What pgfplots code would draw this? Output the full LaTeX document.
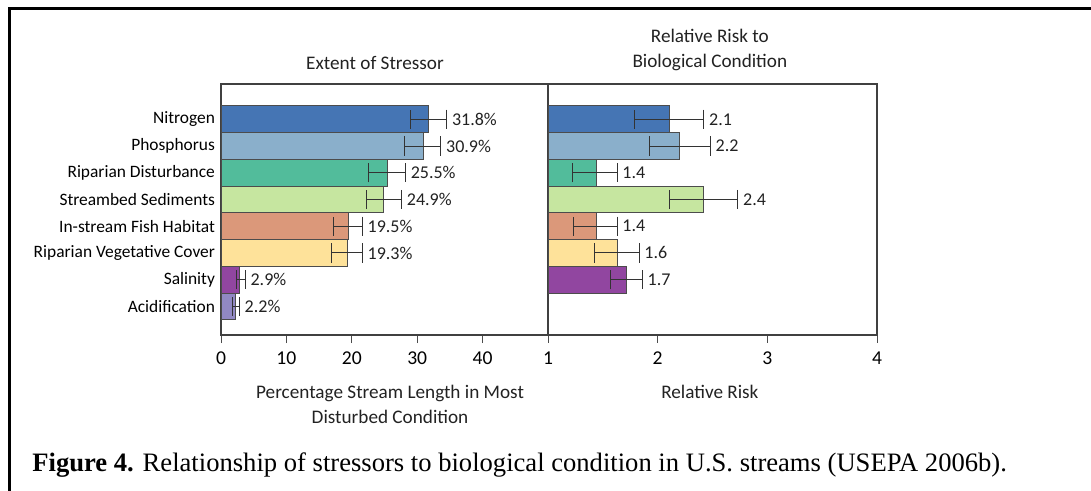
\documentclass[border=0pt]{standalone}
\usepackage{pgfplots}
\pgfplotsset{compat=1.18}
\usepackage{fontspec}
\setmainfont{Carlito}
\newfontfamily\capfont{Liberation Serif}
\definecolor{cN}{HTML}{4575B4}
\definecolor{cP}{HTML}{8AAFCB}
\definecolor{cRD}{HTML}{52BC9B}
\definecolor{cSS}{HTML}{C6E6A0}
\definecolor{cIF}{HTML}{DB987A}
\definecolor{cRV}{HTML}{FEE29A}
\definecolor{cSal}{HTML}{9146A0}
\definecolor{cAc}{HTML}{9188C3}
\definecolor{txt}{HTML}{222222}
\pgfplotsset{
  base/.style={
    scale only axis,
    height=125.5pt,
    ymin=-1.07, ymax=8.32,
    axis line style={draw=black!75, line width=0.6pt},
    tick pos=left,
    tick align=outside,
    major tick length=4pt,
    x tick style={draw=black!70, line width=0.5pt},
    y tick style={draw=none},
    font=\fontsize{9.6}{12.5}\selectfont\color{txt},
    every axis title shift=0pt,
    /pgf/number format/assume math mode=true,
    xticklabel style={yshift=-1pt, font=\fontsize{9.8}{12}\selectfont},
    clip=true,
  },
  mybar/.style={xbar, bar width=13.35pt, bar shift=0pt, draw=black!70, line width=0.5pt, fill=#1,
    error bars/.cd, x dir=both, x explicit,
    error mark=|, error mark options={mark size=4.8pt, line width=0.5pt, draw=black!80},
    error bar style={line width=0.5pt, draw=black!80}},
  vlab/.style={only marks, mark=none, nodes near coords, point meta=explicit symbolic,
    every node near coord/.append style={anchor=west, inner sep=0pt, xshift=2.5pt, font=\fontsize{9}{10}\selectfont\color{txt}}},
}
\begin{document}
\begin{tikzpicture}
\path[use as bounding box] (0,0) rectangle (545.5pt,-245.5pt);
\draw[line width=1.5pt, black] (4.5pt,-246pt) -- (4.5pt,-4.5pt) -- (546pt,-4.5pt);

% left panel
\begin{axis}[base,
  at={(110.5pt,-167.5pt)}, anchor=south west,
  width=163.5pt,
  xmin=0, xmax=50,
  xtick={0,10,20,30,40},
  ytick={0,1,2,3,4,5,6,7},
  yticklabels={Acidification,Salinity,Riparian Vegetative Cover,In-stream Fish Habitat,Streambed Sediments,Riparian Disturbance,Phosphorus,Nitrogen},
  yticklabel style={xshift=4.5pt, font=\fontsize{8.7}{10}\selectfont},
  title={Extent of Stressor},
  title style={at={(axis description cs:0.471,1.084)}, anchor=center, inner sep=0pt},
  xlabel={Percentage Stream Length in Most\\Disturbed Condition},
  xlabel style={at={(axis description cs:0.517,-0.2)}, anchor=north, align=center, inner sep=0pt},
]
\addplot[mybar=cN]  coordinates {(31.8,7) += (2.7,0) -= (2.8,0)};
\addplot[mybar=cP]  coordinates {(30.9,6) += (2.7,0) -= (2.9,0)};
\addplot[mybar=cRD] coordinates {(25.5,5) += (2.7,0) -= (2.9,0)};
\addplot[mybar=cSS] coordinates {(24.9,4) += (2.7,0) -= (2.7,0)};
\addplot[mybar=cIF] coordinates {(19.5,3) += (2.1,0) -= (2.3,0)};
\addplot[mybar=cRV] coordinates {(19.3,2) += (2.3,0) -= (2.4,0)};
\addplot[mybar=cSal] coordinates {(2.9,1) += (0.8,0) -= (0.6,0)};
\addplot[mybar=cAc] coordinates {(2.2,0) += (0.6,0) -= (0.5,0)};
\addplot[vlab] coordinates {
  (34.5,7) [31.8\%]
  (33.6,6) [30.9\%]
  (28.2,5) [25.5\%]
  (27.6,4) [24.9\%]
  (21.6,3) [19.5\%]
  (21.6,2) [19.3\%]
  (3.7,1) [2.9\%]
  (2.8,0) [2.2\%]
};
\end{axis}

% right panel
\begin{axis}[base,
  at={(274pt,-167.5pt)}, anchor=south west,
  width=164.5pt,
  xmin=1, xmax=4,
  xtick={1,2,3,4},
  ytick=\empty,
  title={Relative Risk to\\Biological Condition},
  title style={at={(axis description cs:0.492,1.137)}, anchor=center, align=center, inner sep=0pt},
  xlabel={Relative Risk},
  xlabel style={at={(axis description cs:0.492,-0.2)}, anchor=north, align=center, inner sep=0pt},
]
\addplot[mybar=cN]  coordinates {(2.11,7) += (0.31,0) -= (0.32,0)};
\addplot[mybar=cP]  coordinates {(2.20,6) += (0.28,0) -= (0.27,0)};
\addplot[mybar=cRD] coordinates {(1.44,5) += (0.19,0) -= (0.22,0)};
\addplot[mybar=cSS] coordinates {(2.42,4) += (0.31,0) -= (0.31,0)};
\addplot[mybar=cIF] coordinates {(1.44,3) += (0.19,0) -= (0.21,0)};
\addplot[mybar=cRV] coordinates {(1.63,2) += (0.20,0) -= (0.21,0)};
\addplot[mybar=cSal] coordinates {(1.72,1) += (0.14,0) -= (0.15,0)};
\addplot[vlab] coordinates {
  (2.42,7) [2.1]
  (2.48,6) [2.2]
  (1.63,5) [1.4]
  (2.73,4) [2.4]
  (1.63,3) [1.4]
  (1.83,2) [1.6]
  (1.86,1) [1.7]
};
\end{axis}

\node[anchor=west, inner sep=0pt, font=\capfont\fontsize{13.3}{15}\selectfont] at (16pt,-232.5pt)
  {\textbf{Figure 4.} Relationship of stressors to biological condition in U.S. streams (USEPA 2006b).};
\end{tikzpicture}
\end{document}
